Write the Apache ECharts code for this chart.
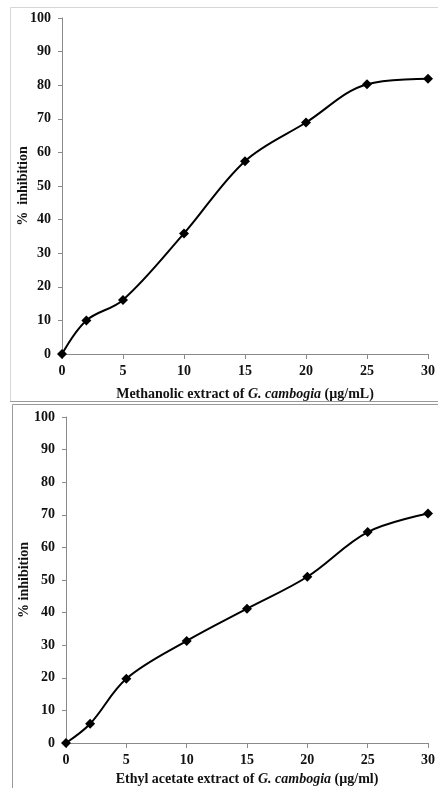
<!DOCTYPE html>
<html>
<head>
<meta charset="utf-8">
<script src="https://cdn.jsdelivr.net/npm/echarts@6/dist/echarts.min.js"></script>
<style>
  html, body { margin: 0; padding: 0; background: #fff; }
  #chart { width: 438px; height: 788px; }
</style>
</head>
<body>
<div id="chart"></div>
<script>
var concentrations = [0, 2, 5, 10, 15, 20, 25, 30];
var methanolic = [0, 10, 16.1, 35.9, 57.4, 68.9, 80.3, 81.9];
var ethylAcetate = [0, 5.9, 19.7, 31.3, 41.2, 51, 64.7, 70.4];
var yTicks = { min: 0, max: 100, interval: 10 };
var xTicks = { min: 0, max: 30, interval: 5 };

var chartDom = document.getElementById('chart');
var myChart = echarts.init(chartDom);
var option;

var font = 'Liberation Serif';

function pairs(ys) {
  return concentrations.map(function (x, i) { return [x, ys[i]]; });
}

function xAxisFor(gridIndex, prefix, unit, gap) {
  return {
    type: 'value',
    gridIndex: gridIndex,
    min: xTicks.min,
    max: xTicks.max,
    interval: xTicks.interval,
    splitLine: { show: false },
    axisLine: { lineStyle: { color: '#8a8a8a', width: 1 } },
    axisTick: { show: true, length: 5, lineStyle: { color: '#8a8a8a' } },
    axisLabel: { color: '#111', fontFamily: font, fontWeight: 'bold', fontSize: 14, margin: 10 },
    name: '{b|' + prefix + '}{i|G. cambogia}{b| ' + unit + '}',
    nameLocation: 'middle',
    nameGap: gap,
    nameMoveOverlap: false,
    nameTextStyle: {
      rich: {
        b: { fontFamily: font, fontWeight: 'bold', fontSize: 14, color: '#111' },
        i: { fontFamily: font, fontWeight: 'bold', fontStyle: 'italic', fontSize: 14, color: '#111' }
      }
    }
  };
}

function yAxisFor(gridIndex, title, gap) {
  return {
    type: 'value',
    gridIndex: gridIndex,
    min: yTicks.min,
    max: yTicks.max,
    interval: yTicks.interval,
    splitLine: { show: false },
    axisLine: { show: true, lineStyle: { color: '#8a8a8a', width: 1 } },
    axisTick: { show: true, length: 4, lineStyle: { color: '#8a8a8a' } },
    axisLabel: { color: '#111', fontFamily: font, fontWeight: 'bold', fontSize: 14, margin: 11 },
    name: title,
    nameLocation: 'middle',
    nameGap: gap,
    nameRotate: 90,
    nameMoveOverlap: false,
    nameTextStyle: { fontFamily: font, fontWeight: 'bold', fontSize: 14, color: '#111' }
  };
}

function seriesFor(index, ys) {
  return {
    type: 'line',
    xAxisIndex: index,
    yAxisIndex: index,
    data: pairs(ys),
    smooth: 0.35,
    symbol: 'diamond',
    symbolSize: 10,
    itemStyle: { color: '#000' },
    lineStyle: { color: '#000', width: 2 },
    animation: false
  };
}

option = {
  backgroundColor: '#fff',
  graphic: [
    { type: 'rect', shape: { x: 10.5, y: 7.5, width: 430, height: 394 },
      style: { fill: 'none', stroke: '#d6d6d6', lineWidth: 1 } },
    { type: 'line', shape: { x1: 10, y1: 401.5, x2: 438, y2: 401.5 },
      style: { stroke: '#999', lineWidth: 1 } },
    { type: 'rect', shape: { x: 12.5, y: 404.5, width: 430, height: 400 },
      style: { fill: 'none', stroke: '#9a9a9a', lineWidth: 1 } }
  ],
  grid: [
    { left: 62, right: 7, top: 18, bottom: 434 },
    { left: 66, right: 7, top: 417, bottom: 45 }
  ],
  xAxis: [
    xAxisFor(0, 'Methanolic extract of ', '(\u00b5g/mL)', 33),
    xAxisFor(1, 'Ethyl acetate extract of ', '(\u00b5g/ml)', 29)
  ],
  yAxis: [
    yAxisFor(0, '%  inhibition', 32),
    yAxisFor(1, '% inhibition', 35)
  ],
  series: [
    seriesFor(0, methanolic),
    seriesFor(1, ethylAcetate)
  ]
};

option && myChart.setOption(option);
</script>
</body>
</html>
